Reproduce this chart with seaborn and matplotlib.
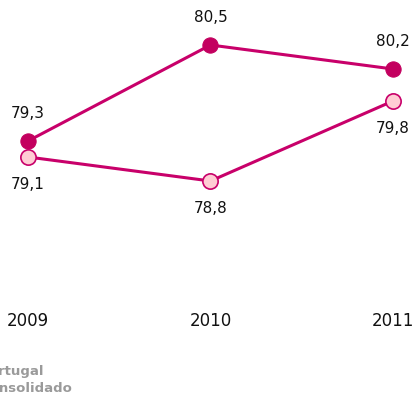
import matplotlib
matplotlib.use('Agg')
import matplotlib.pyplot as plt
import seaborn as sns
import pandas as pd

# dados
years = ['2009', '2010', '2011']
portugal = [79.3, 80.5, 80.2]
consolidado = [79.1, 78.8, 79.8]
series_names = ['Portugal', 'Consolidado']

sns.set_style('white')
plt.rcParams['font.family'] = ['DejaVu Sans']

magenta = '#C8006A'
dark_fill = '#C3005F'
light_fill = '#FFCDD4'

df = pd.DataFrame({'pos': range(len(years)), 'Portugal': portugal, 'Consolidado': consolidado})

fig = plt.figure(figsize=(4.14, 4.05), dpi=100)
ax = fig.add_axes([0, 105 / 405, 1, 300 / 405])

sns.lineplot(data=df, x='pos', y='Portugal', ax=ax, color=magenta, linewidth=2.2,
             marker='o', markersize=11, markerfacecolor=dark_fill, markeredgecolor=dark_fill)
sns.lineplot(data=df, x='pos', y='Consolidado', ax=ax, color=magenta, linewidth=2.2,
             marker='o', markersize=11, markerfacecolor=light_fill, markeredgecolor=magenta,
             markeredgewidth=1.2)

# rótulos dos valores
for i, v in enumerate(portugal):
    ax.annotate(f'{v:.1f}'.replace('.', ','), (i, v), textcoords='offset points',
                xytext=(0, 19.5), ha='center', va='center', fontsize=11, color='#111111')
for i, v in enumerate(consolidado):
    ax.annotate(f'{v:.1f}'.replace('.', ','), (i, v), textcoords='offset points',
                xytext=(0, -19.5), ha='center', va='center', fontsize=11, color='#111111')

ax.set_xlim(-28 / 182.5, 2 + 21 / 182.5)
ax.set_ylim(80.5 - 255 / 80, 80.5 + 45 / 80)
ax.set_xticks(range(len(years)))
ax.set_xticklabels(years, fontsize=12, color='#111111')
ax.tick_params(axis='x', length=0, pad=9)
ax.set_yticks([])
ax.set_xlabel('')
ax.set_ylabel('')
sns.despine(ax=ax, left=True, bottom=True)

# legenda (cortada à esquerda, como no original)
fig.text(-20 / 414, 1 - 371 / 405, series_names[0], fontsize=9.5, fontweight='bold',
         color='#9A9A9A', ha='left', va='center')
fig.text(-20 / 414, 1 - 388 / 405, series_names[1], fontsize=9.5, fontweight='bold',
         color='#9A9A9A', ha='left', va='center')

fig.savefig('out.png', dpi=100)
